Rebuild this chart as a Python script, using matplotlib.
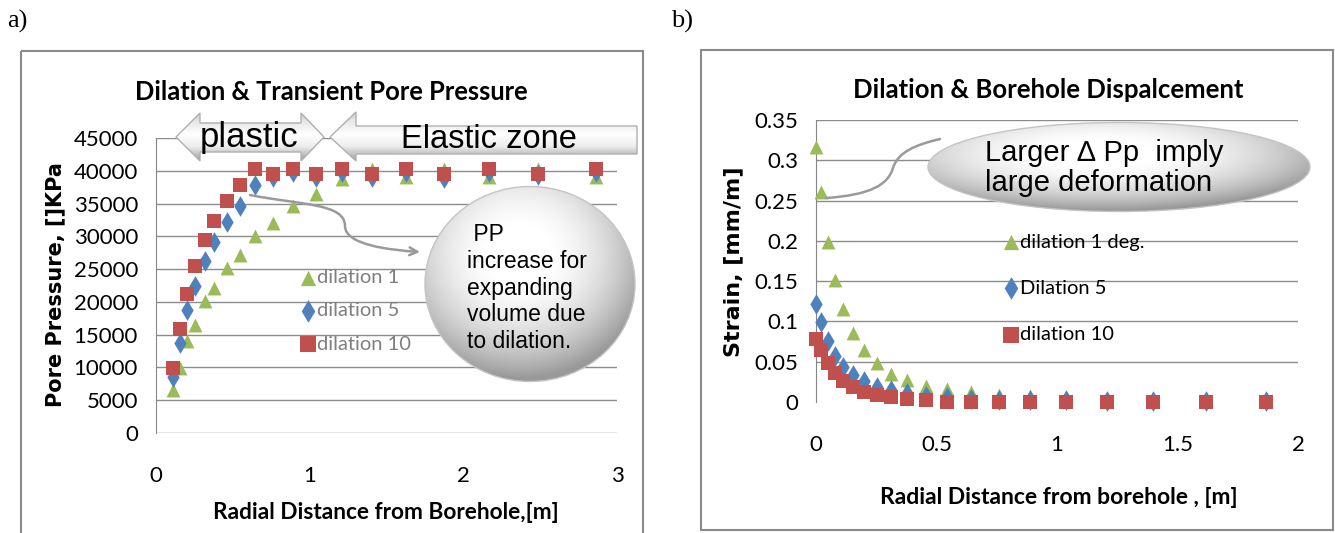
import numpy as np
import matplotlib
matplotlib.use('Agg')
import matplotlib.pyplot as plt
from matplotlib.patches import Polygon, Ellipse, Rectangle, FancyArrowPatch
from matplotlib.path import Path
from matplotlib.ticker import FuncFormatter

# ---- data: a) pore pressure vs radial distance
x_pp = [0.11, 0.157, 0.201, 0.255, 0.317, 0.38, 0.46, 0.546, 0.645, 0.764,
        0.89, 1.042, 1.21, 1.406, 1.627, 1.875, 2.164, 2.487, 2.862]
pp_d1 = [6600, 9900, 14000, 16500, 20100, 22100, 25200, 27200, 30000, 32100,
         34600, 36500, 38700, 40300, 39000, 40300, 39000, 40300, 39100]
pp_d5 = [8600, 13800, 18700, 22500, 26200, 29100, 32200, 34700, 37800, 39000,
         39800, 39000, 39800, 39000, 39800, 38900, 39800, 39300, 39800]
pp_d10 = [9900, 15800, 21200, 25400, 29500, 32400, 35400, 37900, 40300, 39500,
          40300, 39500, 40300, 39500, 40300, 39500, 40300, 39500, 40300]
pp_labels = ['dilation 1', 'dilation 5', 'dilation 10']

# ---- data: b) strain vs radial distance
x_st = [0, 0.022, 0.049, 0.079, 0.113, 0.154, 0.201, 0.252, 0.312, 0.378,
        0.456, 0.544, 0.644, 0.758, 0.89, 1.036, 1.206, 1.399, 1.619, 1.868]
st_d1 = [0.317, 0.261, 0.198, 0.152, 0.115, 0.086, 0.065, 0.049, 0.035, 0.027,
         0.020, 0.016, 0.013, 0.009, 0.007, 0.005, 0.004, 0.003, 0.002, 0.002]
st_d5 = [0.122, 0.099, 0.076, 0.057, 0.044, 0.034, 0.026, 0.019, 0.015, 0.011,
         0.008, 0.006, 0.004, 0.003, 0.002, 0.002, 0.001, 0.001, 0.001, 0.001]
st_d10 = [0.078, 0.065, 0.049, 0.036, 0.026, 0.019, 0.013, 0.009, 0.006, 0.004,
          0.002, 0.0005, 0, 0, 0, 0, 0, 0, 0, 0]
st_labels = ['dilation 1 deg.', 'Dilation 5', 'dilation 10']

GREEN, BLUE, RED = '#9BBB59', '#4F81BD', '#C0504D'
GRID = '#8c8c8c'

plt.rcParams['font.family'] = ['Lato', 'DejaVu Sans']

W, H = 1335, 533
fig = plt.figure(figsize=(W / 100, H / 100), dpi=100)


def px_box(l, t, r, b):
    return [l / W, 1 - b / H, (r - l) / W, (b - t) / H]


def style(ax):
    for s in ['top', 'right', 'bottom']:
        ax.spines[s].set_visible(False)
    ax.spines['left'].set_color('#868686')
    ax.tick_params(length=0, labelsize=16)
    ax.tick_params(axis='x', pad=24)
    ax.tick_params(axis='y', pad=13)
    ax.yaxis.grid(True, color=GRID, lw=1)
    ax.set_axisbelow(True)


fmt = FuncFormatter(lambda v, p: f'{v:g}')

# ---------------- a)
ax1 = fig.add_axes(px_box(156, 138, 617, 433))
ax1.set_xlim(0, 3)
ax1.set_ylim(0, 45000)
ax1.set_xticks([0, 1, 2, 3])
ax1.set_yticks(np.arange(0, 45001, 5000))
style(ax1)
ax1.scatter(x_pp, pp_d1, marker='^', s=100, c=GREEN, lw=0, zorder=3, clip_on=False, label=pp_labels[0])
ax1.scatter(x_pp, pp_d5, marker='d', s=110, c=BLUE, lw=0, zorder=4, clip_on=False, label=pp_labels[1])
ax1.scatter(x_pp, pp_d10, marker='s', s=105, c=RED, lw=0, zorder=5, clip_on=False, label=pp_labels[2])
ax1.legend(loc='upper left', bbox_to_anchor=(0.294, 0.59), frameon=False, borderpad=0,
           handlelength=0.6, handletextpad=0.15, labelspacing=0.8, fontsize=14.5,
           markerscale=1.1, labelcolor='#7f7f7f')
ax1.text(0.38, 1.156, 'Dilation & Transient Pore Pressure', transform=ax1.transAxes,
         ha='center', va='center', fontsize=18.4, fontweight='bold')
ax1.set_xlabel('Radial Distance from Borehole,[m]', fontsize=16.3, fontweight='bold', va='center')
ax1.xaxis.set_label_coords(0.499, -0.271)
ax1.set_ylabel('Pore Pressure, []KPa', fontsize=15, fontweight='bold', va='center',
               family='DejaVu Sans')
ax1.yaxis.set_label_coords(-0.219, 0.502)

# ---------------- b)
ax2 = fig.add_axes(px_box(816, 120, 1298, 402))
ax2.set_xlim(0, 2)
ax2.set_ylim(0, 0.35)
ax2.set_xticks([0, 0.5, 1, 1.5, 2])
ax2.set_yticks(np.round(np.arange(0, 0.351, 0.05), 2))
ax2.xaxis.set_major_formatter(fmt)
ax2.yaxis.set_major_formatter(fmt)
style(ax2)
ax2.get_ygridlines()[0].set_visible(False)
ax2.scatter(x_st, st_d1, marker='^', s=100, c=GREEN, lw=0, zorder=3, clip_on=False, label=st_labels[0])
ax2.scatter(x_st, st_d5, marker='d', s=110, c=BLUE, lw=0, zorder=4, clip_on=False, label=st_labels[1])
ax2.scatter(x_st, st_d10, marker='s', s=105, c=RED, lw=0, zorder=5, clip_on=False, label=st_labels[2])
ax2.legend(loc='upper left', bbox_to_anchor=(0.372, 0.633), frameon=False, borderpad=0,
           handlelength=0.6, handletextpad=0.15, labelspacing=1.44, fontsize=14.5,
           markerscale=1.1)
ax2.text(0.481, 1.106, 'Dilation & Borehole Dispalcement', transform=ax2.transAxes,
         ha='center', va='center', fontsize=18.5, fontweight='bold')
ax2.set_xlabel('Radial Distance from borehole , [m]', fontsize=16.5, fontweight='bold', va='center')
ax2.xaxis.set_label_coords(0.504, -0.337)
ax2.set_ylabel('Strain, [mm/m]', fontsize=16, fontweight='bold', va='center',
               family='DejaVu Sans')
ax2.yaxis.set_label_coords(-0.172, 0.496)

# ---------------- decorations on a pixel overlay
ov = fig.add_axes([0, 0, 1, 1], zorder=10)
ov.set_xlim(0, W)
ov.set_ylim(H, 0)
ov.axis('off')
ov.patch.set_alpha(0)

ov.add_patch(Rectangle((21, 51), 622, 500, fill=False, ec='#8a8a8a', lw=1.5))
ov.add_patch(Rectangle((701, 50), 632, 480, fill=False, ec='#8a8a8a', lw=1.5))
fig.text(7 / W, 1 - 21 / H, 'a)', fontsize=19, family='Liberation Serif', va='center')
fig.text(671 / W, 1 - 21 / H, 'b)', fontsize=19, family='Liberation Serif', va='center')


def shaded(patch, img, extent):
    ov.add_patch(patch)
    im = ov.imshow(img, extent=extent, aspect='auto', interpolation='bilinear',
                   zorder=patch.get_zorder() - 0.1)
    im.set_clip_path(patch)


t = np.linspace(0, 1, 64)
lum = np.interp(t, [0, 0.15, 0.45, 0.7, 1], [0.78, 0.9, 1.0, 0.93, 0.62])
vgrad = np.dstack([np.repeat(lum[:, None], 2, axis=1)] * 3)

plastic = Polygon([(176, 137), (200, 113), (200, 123), (301, 123), (301, 113), (324, 137),
                   (301, 161), (301, 152), (200, 152), (200, 161)],
                  closed=True, fc='none', ec='#b0b0b0', lw=1, zorder=5)
shaded(plastic, vgrad, (176, 324, 161, 113))
elastic = Polygon([(330, 137), (356, 112), (356, 126), (637, 126), (637, 154), (356, 154),
                   (356, 161)], closed=True, fc='none', ec='#b0b0b0', lw=1, zorder=5)
shaded(elastic, vgrad, (330, 637, 161, 112))
ov.text(249, 137, 'plastic', fontsize=25, family='Liberation Sans', ha='center', va='center', zorder=6)
ov.text(489, 140, 'Elastic zone', fontsize=23.5, family='Liberation Sans', ha='center', va='center', zorder=6)

yy, xx = np.mgrid[-1:1:200j, -1:1:200j]
r = np.hypot(xx + 0.1, yy + 0.3)
rl = np.clip(1.02 - 0.25 * r ** 2.2, 0.6, 1)
rgrad = np.dstack([rl] * 3)

# callout a)
tail1 = Path([(250, 195), (300, 205), (345, 203), (345, 226), (345, 245), (390, 250), (420, 252)],
             [Path.MOVETO, Path.CURVE4, Path.CURVE4, Path.CURVE4, Path.CURVE4, Path.CURVE4, Path.CURVE4])
ov.add_patch(FancyArrowPatch(path=tail1, arrowstyle='->', mutation_scale=14, color='#9a9a9a', lw=1.8, zorder=4))
bub1 = Ellipse((530, 284), 210, 195, fc='none', ec='#c4c4c4', lw=1, zorder=5)
shaded(bub1, rgrad, (425, 635, 382, 186))
ov.text(467, 288, ' PP\nincrease for\nexpanding\nvolume due\nto dilation.', fontsize=16.5,
        family='Liberation Sans', ha='left', va='center', linespacing=1.2, zorder=6)

# callout b)
tail2 = Path([(826, 198), (870, 195), (888, 185), (893, 168), (898, 152), (915, 145), (940, 139)],
             [Path.MOVETO, Path.CURVE4, Path.CURVE4, Path.CURVE4, Path.CURVE4, Path.CURVE4, Path.CURVE4])
ov.add_patch(FancyArrowPatch(path=tail2, arrowstyle='-', color='#9a9a9a', lw=1.8, zorder=4))
bub2 = Ellipse((1119, 167), 382, 89, fc='none', ec='#c4c4c4', lw=1, zorder=5)
shaded(bub2, rgrad, (928, 1310, 212, 122))
ov.text(985, 168, 'Larger \u2206 Pp  imply\nlarge deformation', fontsize=21,
        family=['Liberation Sans', 'DejaVu Sans'], ha='left', va='center', linespacing=1.05, zorder=6)

fig.savefig('out.png', dpi=100)
